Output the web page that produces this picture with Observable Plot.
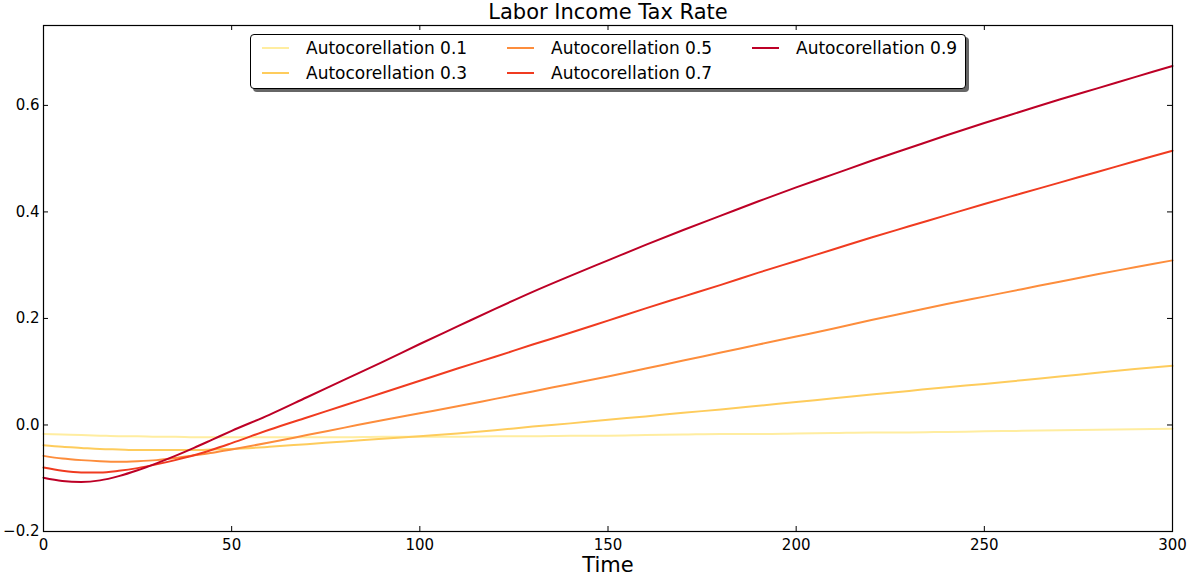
<!DOCTYPE html>
<html>
<head>
<meta charset="utf-8">
<script src="https://cdn.jsdelivr.net/npm/d3@7"></script>
<script src="https://cdn.jsdelivr.net/npm/@observablehq/plot@0.6"></script>
<style>
  body { margin: 0; background: #fff; font-family: "DejaVu Sans", sans-serif; }
  #wrap { position: relative; width: 1196px; height: 582px; }
  #legend {
    position: absolute; left: 250px; top: 34px; width: 714px; height: 53px;
    border: 1px solid #000; border-radius: 4px; background: #fff;
    box-shadow: 3px 3px 0 #666;
    display: grid; grid-template-columns: 245px 245px 224px;
    grid-auto-flow: column; grid-template-rows: 25.5px 25.5px;
    box-sizing: content-box;
  }
  .entry { display: flex; align-items: center; font-size: 17px; color: #000; white-space: nowrap; }
  .swatch { width: 27px; height: 2px; margin-left: 11px; margin-right: 17px; }
</style>
</head>
<body>
<div id="wrap"><div id="legend"></div></div>
<script>
// Time grid (periods)
const time = [0, 5, 10, 15, 20, 25, 30, 35, 40, 45, 50, 60, 70, 80, 90, 100, 110, 120, 130, 140,
  150, 160, 170, 180, 190, 200, 210, 220, 230, 240, 250, 260, 270, 280, 290, 300];

// Labor income tax rate path for each autocorrelation level
const rho01 = [-0.017, -0.018, -0.019, -0.020, -0.021, -0.021, -0.022, -0.022, -0.023, -0.023, -0.023,
  -0.023, -0.023, -0.023, -0.022, -0.022, -0.022, -0.021, -0.021, -0.020, -0.020, -0.019, -0.018,
  -0.017, -0.017, -0.016, -0.015, -0.014, -0.014, -0.013, -0.012, -0.011, -0.010, -0.009, -0.008, -0.007];
const rho03 = [-0.038, -0.041, -0.043, -0.045, -0.046, -0.047, -0.047, -0.047, -0.047, -0.046, -0.045,
  -0.041, -0.036, -0.031, -0.026, -0.021, -0.016, -0.010, -0.003, 0.003, 0.010, 0.016, 0.023, 0.029,
  0.036, 0.043, 0.050, 0.057, 0.064, 0.071, 0.077, 0.084, 0.091, 0.098, 0.105, 0.111];
const rho05 = [-0.058, -0.063, -0.066, -0.068, -0.069, -0.068, -0.066, -0.062, -0.057, -0.052, -0.046,
  -0.033, -0.019, -0.005, 0.009, 0.022, 0.035, 0.049, 0.063, 0.077, 0.091, 0.106, 0.121, 0.136,
  0.151, 0.166, 0.181, 0.197, 0.212, 0.227, 0.241, 0.255, 0.269, 0.283, 0.296, 0.309];
const rho07 = [-0.080, -0.086, -0.089, -0.089, -0.086, -0.081, -0.074, -0.066, -0.057, -0.046, -0.034,
  -0.009, 0.014, 0.037, 0.060, 0.083, 0.106, 0.128, 0.151, 0.173, 0.196, 0.219, 0.241, 0.263,
  0.286, 0.308, 0.330, 0.352, 0.373, 0.394, 0.415, 0.435, 0.455, 0.475, 0.495, 0.515];
const rho09 = [-0.099, -0.105, -0.107, -0.104, -0.096, -0.085, -0.072, -0.058, -0.043, -0.027, -0.011,
  0.019, 0.052, 0.085, 0.118, 0.152, 0.185, 0.218, 0.250, 0.280, 0.309, 0.338, 0.366, 0.393,
  0.420, 0.446, 0.471, 0.496, 0.520, 0.544, 0.567, 0.589, 0.611, 0.632, 0.653, 0.674];

const seriesNames = ["Autocorellation 0.1", "Autocorellation 0.3", "Autocorellation 0.5",
  "Autocorellation 0.7", "Autocorellation 0.9"];
const seriesValues = [rho01, rho03, rho05, rho07, rho09];
const seriesColors = ["#ffeda0", "#fecc5c", "#fd8d3c", "#f03b20", "#bd0026"];

const xTicks = [0, 50, 100, 150, 200, 250, 300];
const yTicks = [-0.2, 0.0, 0.2, 0.4, 0.6];

const rows = seriesNames.flatMap((name, i) =>
  time.map((t, j) => ({series: name, t, v: seriesValues[i][j]})));

const W = 1196, H = 582;
const mTop = 25, mRight = 24, mBottom = 51, mLeft = 43;
const innerW = W - mLeft - mRight, innerH = H - mTop - mBottom;
const tickLen = 5;

const chart = Plot.plot({
  width: W, height: H,
  marginTop: mTop, marginRight: mRight, marginBottom: mBottom, marginLeft: mLeft,
  style: {fontFamily: "DejaVu Sans, sans-serif", fontSize: "15px", color: "#000", background: "#fff"},
  x: {domain: [0, 300]},
  y: {domain: [-0.2, 0.75]},
  color: {domain: seriesNames, range: seriesColors},
  marks: [
    Plot.line(rows, {x: "t", y: "v", z: "series", stroke: "series", strokeWidth: 2, curve: "monotone-x"}),
    // inward ticks on all four sides
    Plot.tickX(xTicks, {x: d => d, insetTop: innerH - tickLen, stroke: "#000"}),
    Plot.tickX(xTicks, {x: d => d, insetBottom: innerH - tickLen, stroke: "#000"}),
    Plot.tickY(yTicks, {y: d => d, insetRight: innerW - tickLen, stroke: "#000"}),
    Plot.tickY(yTicks, {y: d => d, insetLeft: innerW - tickLen, stroke: "#000"}),
    Plot.axisX(xTicks, {tickSize: 0, tickPadding: 8, label: null, fontSize: 15}),
    Plot.axisY(yTicks, {tickSize: 0, tickPadding: 4, label: null, fontSize: 15, tickFormat: d3.format(".1f")}),
    Plot.frame({stroke: "#000", strokeWidth: 1.2}),
    Plot.text(["Labor Income Tax Rate"], {frameAnchor: "top", lineAnchor: "middle", dy: -13, fontSize: 21, fill: "#000"}),
    Plot.text(["Time"], {frameAnchor: "bottom", lineAnchor: "middle", dy: 34, fontSize: 21, fill: "#000"})
  ]
});
document.getElementById("wrap").prepend(chart);

// legend: three columns, filled column by column
const legend = d3.select("#legend");
seriesNames.forEach((name, i) => {
  const e = legend.append("div").attr("class", "entry");
  e.append("span").attr("class", "swatch").style("background", seriesColors[i]);
  e.append("span").text(name);
});
</script>
</body>
</html>
